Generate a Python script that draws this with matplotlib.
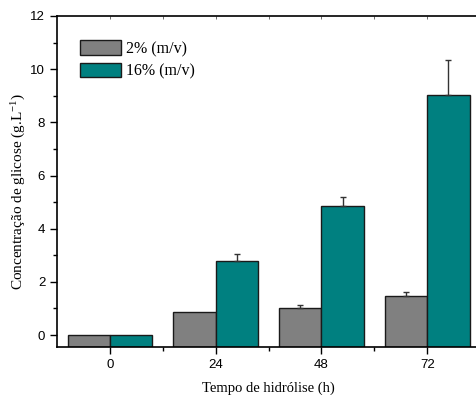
import matplotlib.pyplot as plt
import numpy as np
from matplotlib.ticker import MultipleLocator, FixedLocator

plt.rcParams['mathtext.fontset'] = 'stix'

times = ['0', '24', '48', '72']
conc_2 = [0.0, 0.85, 1.02, 1.47]
err_2 = [0.0, 0.0, 0.11, 0.15]
conc_16 = [0.0, 2.79, 4.85, 9.02]
err_16 = [0.0, 0.25, 0.34, 1.34]

ymin = -0.45

fig = plt.figure(figsize=(4.77, 3.95), dpi=100)
ax = fig.add_axes([0.1195, 0.1215, 0.887, 0.838])

x = np.arange(len(times))
w = 0.4
# bars start at the bottom of the axis, like the original (Origin) plot
ax.bar(x - w/2, np.array(conc_2) - ymin, w, bottom=ymin, color='#808080',
       edgecolor='#1a1a1a', linewidth=1.0, label='2% (m/v)', zorder=2)
ax.bar(x + w/2, np.array(conc_16) - ymin, w, bottom=ymin, color='#008080',
       edgecolor='#1a1a1a', linewidth=1.0, label='16% (m/v)', zorder=2)
ax.errorbar(x[2:] - w/2, conc_2[2:], yerr=[np.zeros(2), err_2[2:]], fmt='none',
            ecolor='#333333', elinewidth=1, capsize=2.5, capthick=1, zorder=3)
ax.errorbar(x[1:] + w/2, conc_16[1:], yerr=[np.zeros(3), err_16[1:]], fmt='none',
            ecolor='#333333', elinewidth=1, capsize=2.5, capthick=1, zorder=3)

ax.set_xlim(-0.5, 3.5)
ax.set_ylim(ymin, 12)
ax.set_xticks(x)
ax.set_xticklabels(times, fontfamily='Liberation Sans', fontsize=9.5)
ax.xaxis.set_minor_locator(FixedLocator([0.5, 1.5, 2.5]))
ax.yaxis.set_major_locator(MultipleLocator(2))
ax.yaxis.set_minor_locator(MultipleLocator(1))
for lbl in ax.get_yticklabels():
    lbl.set_fontfamily('Liberation Sans')
    lbl.set_fontsize(9.5)

ax.tick_params(axis='y', which='major', direction='out', length=5, width=1)
ax.tick_params(axis='y', which='minor', direction='out', length=3, width=1)
ax.tick_params(axis='x', which='major', direction='out', length=5, width=1)
ax.tick_params(axis='x', which='minor', direction='out', length=3, width=1)
ax.spines['right'].set_visible(False)
for s in ['left', 'bottom', 'top']:
    ax.spines[s].set_linewidth(1.2)

# tiny inward ticks on the top spine
top = ax.secondary_xaxis('top')
top.set_xticks([0, 0.5, 1, 1.5, 2, 2.5, 3])
top.tick_params(direction='in', length=2, width=0.6, colors='#555555', labeltop=False)
top.spines['top'].set_visible(False)

ax.set_xlabel('Tempo de hidrólise (h)', fontfamily='Liberation Serif', fontsize=10.5, labelpad=8)
ax.set_ylabel('Concentração de glicose (g.L$^{\\mathregular{-1}}$)',
              fontfamily='Liberation Serif', fontsize=11)
ax.yaxis.set_label_coords(-0.07, 0.47)

ax.legend(loc='upper left', bbox_to_anchor=(0.02, 0.97), frameon=False,
          prop={'family': 'Liberation Serif', 'size': 11.5},
          handlelength=2.6, handleheight=1.0, handletextpad=0.3, labelspacing=0.35)

fig.savefig('out.png', dpi=100)
